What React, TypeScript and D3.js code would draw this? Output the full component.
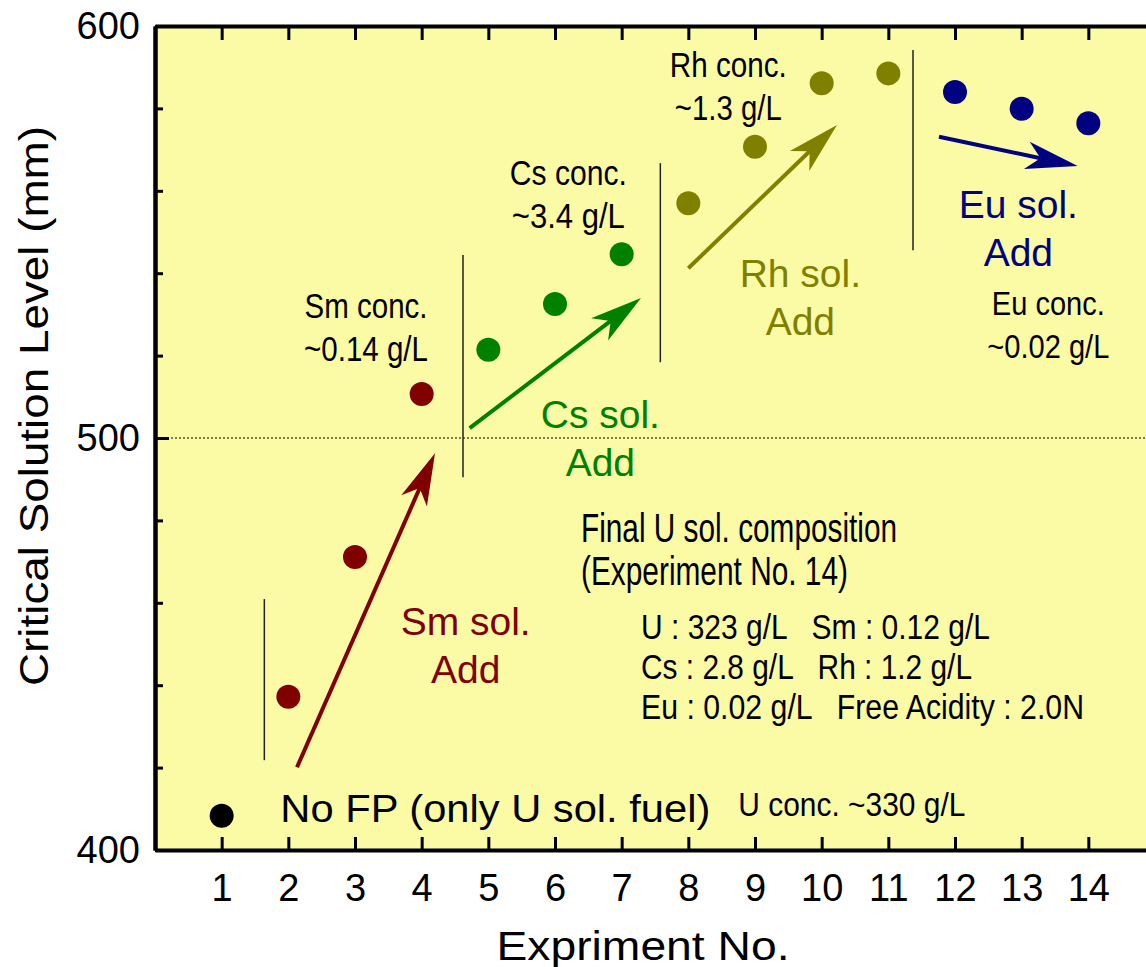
import React, { useRef, useEffect } from 'react';
import * as d3 from 'd3';

// ── Data ────────────────────────────────────────────────────────────────────
const EXPERIMENTS = [1, 2, 3, 4, 5, 6, 7, 8, 9, 10, 11, 12, 13, 14];
const LEVELS = [408.3, 437.2, 471.1, 510.7, 521.4, 532.5, 544.6, 557.0, 570.7, 586.1, 588.5, 584.0, 579.9, 576.4];
const GROUPS = ['U', 'Sm', 'Sm', 'Sm', 'Cs', 'Cs', 'Cs', 'Rh', 'Rh', 'Rh', 'Rh', 'Eu', 'Eu', 'Eu'];
const Y_LABELS = [400, 500, 600];
const Y_MINOR = [420, 440, 460, 480, 520, 540, 560, 580];

const COLORS: Record<string, string> = {
  U: '#000000',
  Sm: '#800000',
  Cs: '#008000',
  Rh: '#808000',
  Eu: '#000080',
};

// arrows: [group, x0, y0, x1, y1]
const ARROWS: [string, number, number, number, number][] = [
  ['Sm', 2.13, 420.1, 4.2, 496.3],
  ['Cs', 4.72, 502.4, 7.29, 534.0],
  ['Rh', 8.0, 541.2, 10.23, 576.0],
  ['Eu', 11.76, 573.1, 13.84, 566.0],
];

// separators: [x, yLow, yHigh]
const SEPARATORS: [number, number, number][] = [
  [1.64, 421.8, 460.9],
  [4.62, 490.5, 544.4],
  [7.58, 518.4, 566.7],
  [11.37, 545.6, 594.2],
];

// "xx sol. / Add" labels: [group, x, y(baseline of first line)]
const SOL_LABELS: [string, number, number][] = [
  ['Sm', 4.66, 452.2],
  ['Cs', 6.68, 502.4],
  ['Rh', 9.68, 536.7],
  ['Eu', 12.95, 553.4],
];

// concentration notes: [line1, line2, x, y, width1, width2]
const CONC_NOTES: [string, string, number, number, number, number][] = [
  ['Sm conc.', '~0.14 g/L', 3.165, 529.1, 123, 124],
  ['Cs conc.', '~3.4 g/L', 6.2, 561.4, 117, 113],
  ['Rh conc.', '~1.3 g/L', 8.6, 587.6, 117, 107],
  ['Eu conc.', '~0.02 g/L', 13.4, 529.9, 113, 122],
];

const COMPOSITION = [
  'U : 323 g/L   Sm : 0.12 g/L',
  'Cs : 2.8 g/L   Rh : 1.2 g/L',
  'Eu : 0.02 g/L   Free Acidity : 2.0N',
];
const COMPOSITION_W = [349, 331, 443];

const FONT = "'Liberation Sans', Arial, sans-serif";
const NARROW = "'Liberation Sans Narrow', 'Liberation Sans', Arial, sans-serif";

export default function App() {
  const ref = useRef<SVGSVGElement | null>(null);

  useEffect(() => {
    if (!ref.current) return;
    const svg = d3.select(ref.current);
    svg.selectAll('*').remove();

    const x = d3.scaleLinear().domain([0, 15]).range([155, 1155]);
    const y = d3.scaleLinear().domain([400, 600]).range([850, 26]);

    // ── Plot background ─────────────────────────────────────────────────────
    svg.append('rect')
      .attr('x', x(0)).attr('y', y(600))
      .attr('width', x(15) - x(0)).attr('height', y(400) - y(600))
      .attr('fill', '#fbfba5');

    // ── 500 mm dotted reference ─────────────────────────────────────────────
    svg.append('line')
      .attr('x1', x(0)).attr('x2', x(15))
      .attr('y1', y(500)).attr('y2', y(500))
      .attr('stroke', '#000').attr('stroke-width', 1)
      .attr('stroke-dasharray', '2,2');

    // ── Separators ──────────────────────────────────────────────────────────
    SEPARATORS.forEach(([sx, lo, hi]) => {
      svg.append('line')
        .attr('x1', x(sx)).attr('x2', x(sx))
        .attr('y1', y(lo)).attr('y2', y(hi))
        .attr('stroke', '#222').attr('stroke-width', 1.5);
    });

    // ── Arrows ──────────────────────────────────────────────────────────────
    const HEAD = 52, HALF = 14, NOTCH = 38;
    ARROWS.forEach(([grp, x0, y0, x1, y1]) => {
      const ax = x(x0), ay = y(y0), bx = x(x1), by = y(y1);
      const len = Math.hypot(bx - ax, by - ay);
      const ux = (bx - ax) / len, uy = (by - ay) / len;
      const nx = -uy, ny = ux;
      const c = COLORS[grp];
      svg.append('line')
        .attr('x1', ax).attr('y1', ay)
        .attr('x2', bx - ux * NOTCH).attr('y2', by - uy * NOTCH)
        .attr('stroke', c).attr('stroke-width', 4);
      const pts: [number, number][] = [
        [bx, by],
        [bx - ux * HEAD + nx * HALF, by - uy * HEAD + ny * HALF],
        [bx - ux * NOTCH, by - uy * NOTCH],
        [bx - ux * HEAD - nx * HALF, by - uy * HEAD - ny * HALF],
      ];
      svg.append('path')
        .attr('d', 'M' + pts.map(p => p.join(',')).join('L') + 'Z')
        .attr('fill', c);
    });

    // ── Points ──────────────────────────────────────────────────────────────
    svg.append('g')
      .selectAll('circle')
      .data(EXPERIMENTS)
      .join('circle')
      .attr('cx', d => x(d))
      .attr('cy', (_, i) => y(LEVELS[i]))
      .attr('r', 12)
      .attr('fill', (_, i) => COLORS[GROUPS[i]]);

    // ── Text helper ─────────────────────────────────────────────────────────
    const txt = (
      tx: number, ty: number, s: string, size: number,
      opts: { color?: string; anchor?: string; len?: number; family?: string } = {}
    ) => {
      const t = svg.append('text')
        .attr('x', tx).attr('y', ty)
        .attr('font-size', size)
        .attr('font-family', opts.family ?? FONT)
        .attr('fill', opts.color ?? '#000')
        .attr('text-anchor', opts.anchor ?? 'start')
        .style('white-space', 'pre')
        .text(s);
      if (opts.len) t.attr('textLength', opts.len).attr('lengthAdjust', 'spacingAndGlyphs');
      return t;
    };

    // sol. Add labels
    SOL_LABELS.forEach(([grp, lx, ly]) => {
      const c = COLORS[grp];
      txt(x(lx), y(ly), `${grp} sol.`, 39, { color: c, anchor: 'middle' });
      txt(x(lx), y(ly) + 48, 'Add', 39, { color: c, anchor: 'middle' });
    });

    // concentration notes
    CONC_NOTES.forEach(([l1, l2, nx, ny, w1, w2], i) => {
      const fs = i === 3 ? 33 : 35;
      txt(x(nx), y(ny), l1, fs, { anchor: 'middle', len: w1, family: NARROW });
      txt(x(nx), y(ny) + 43, l2, fs, { anchor: 'middle', len: w2, family: NARROW });
    });

    // composition block
    txt(x(6.39), y(474.8), 'Final U sol. composition', 40, { len: 316, family: NARROW });
    txt(x(6.39), y(464.3), '(Experiment No. 14)', 40, { len: 267, family: NARROW });
    COMPOSITION.forEach((s, i) => {
      txt(x(7.29), y(451.2) + i * 40, s, 35, { len: COMPOSITION_W[i], family: NARROW });
    });

    // No FP
    txt(x(1.88), y(406.8), 'No FP (only U sol. fuel)', 38, { len: 430 });
    txt(x(8.75), y(408.3), 'U conc. ~330 g/L', 33, { len: 227, family: NARROW });

    // ── Axes ────────────────────────────────────────────────────────────────
    const styleAxis = (ax: d3.Selection<SVGGElement, unknown, null, undefined>) => {
      ax.select('.domain').attr('stroke', '#000').attr('stroke-width', 4);
      ax.selectAll('.tick line').attr('stroke', '#000').attr('stroke-width', 3);
      ax.selectAll('.tick text')
        .attr('fill', '#000')
        .attr('font-size', 38)
        .attr('font-family', FONT);
    };

    svg.append('g')
      .attr('transform', `translate(0,${y(400)})`)
      .call(d3.axisBottom(x).tickValues(EXPERIMENTS).tickSize(-13).tickSizeOuter(0).tickPadding(24))
      .call(styleAxis);

    svg.append('g')
      .attr('transform', `translate(0,${y(600)})`)
      .call(d3.axisTop(x).tickValues(EXPERIMENTS).tickSize(-14).tickSizeOuter(0).tickFormat(() => ''))
      .call(styleAxis);

    svg.append('g')
      .attr('transform', `translate(${x(0)},0)`)
      .call(d3.axisLeft(y).tickValues(Y_MINOR).tickSize(-8).tickSizeOuter(0).tickFormat(() => ''))
      .call(styleAxis);

    svg.append('g')
      .attr('transform', `translate(${x(0)},0)`)
      .call(d3.axisLeft(y).tickValues(Y_LABELS).tickSize(-14).tickSizeOuter(0).tickPadding(15))
      .call(styleAxis);

    // axis titles
    txt(x(7.32), 960, 'Expriment No.', 40, { anchor: 'middle', len: 293 });
    svg.append('text')
      .attr('transform', `translate(48,${y(500) - 32}) rotate(-90)`)
      .attr('text-anchor', 'middle')
      .attr('font-size', 40)
      .attr('font-family', FONT)
      .attr('textLength', 560)
      .attr('lengthAdjust', 'spacingAndGlyphs')
      .text('Critical Solution Level (mm)');
  }, []);

  return (
    <svg
      ref={ref}
      width={1146}
      height={967}
      style={{ position: 'absolute', left: 0, top: 0, background: '#fff' }}
    />
  );
}
